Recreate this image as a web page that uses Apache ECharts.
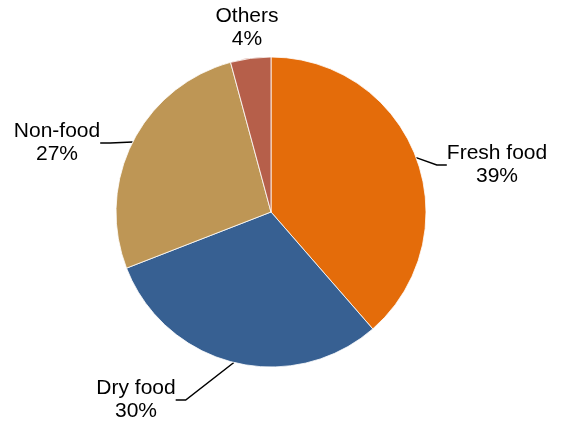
<!DOCTYPE html>
<html>
<head>
<meta charset="utf-8">
<script src="https://cdn.jsdelivr.net/npm/echarts@6/dist/echarts.min.js"></script>
<style>
  html, body { margin: 0; padding: 0; background: #fff; }
  #chart { width: 561px; height: 425px; }
</style>
</head>
<body>
<div id="chart"></div>
<script>
const CATEGORIES = ["Fresh food", "Dry food", "Non-food", "Others"];
const SHARES = [38.6, 30.5, 26.7, 4.2];
// percentages as printed on the labels
const PERCENT_LABELS = ["39%", "30%", "27%", "4%"];
const COLORS = ["#e46c0a", "#376092", "#be9655", "#b65f4a"];

// label centres (x, middle y)
const LABEL_POS = [
  [497, 165],
  [136, 400],
  [57, 143],
  [247, 28],
];

const chart = echarts.init(document.getElementById("chart"));

chart.setOption({
  animation: false,
  color: COLORS,
  series: [
    {
      type: "pie",
      center: [271, 212],
      radius: 155,
      startAngle: 90,
      clockwise: true,
      itemStyle: { borderColor: "#fff", borderWidth: 0.8 },
      label: {
        formatter: (p) => `${p.name}\n${PERCENT_LABELS[p.dataIndex]}`,
        fontFamily: "Liberation Sans, Arial, sans-serif",
        fontSize: 21,
        lineHeight: 23,
        color: "#000",
        align: "center",
      },
      labelLine: {
        show: true,
        length: 12,
        length2: 10,
        lineStyle: { color: "#000", width: 1.5 },
      },
      labelLayout: (params) => {
        const pos = LABEL_POS[params.dataIndex];
        return {
          x: pos[0],
          y: pos[1],
          align: "center",
          verticalAlign: "middle",
        };
      },
      data: CATEGORIES.map((name, i) => ({
        name,
        value: SHARES[i],
        labelLine: i === 3 ? { show: false } : undefined,
      })),
    },
  ],
});
</script>
</body>
</html>
